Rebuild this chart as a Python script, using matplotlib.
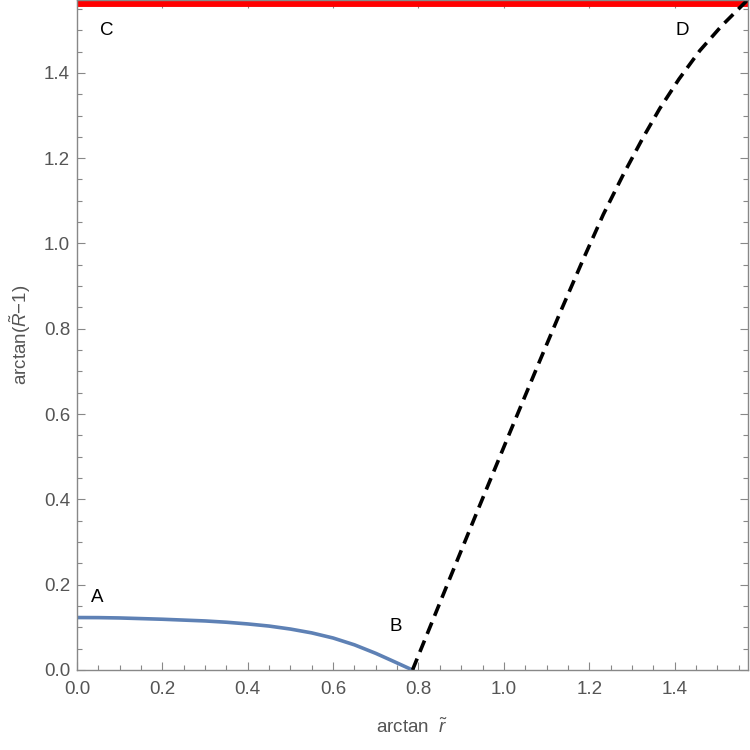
import numpy as np
import matplotlib
matplotlib.use("Agg")
import matplotlib.pyplot as plt
from matplotlib.ticker import MultipleLocator, FormatStrFormatter

plt.rcParams['font.family'] = ['Liberation Sans', 'DejaVu Sans']
plt.rcParams['mathtext.fontset'] = 'custom'
plt.rcParams['mathtext.rm'] = 'Liberation Sans'
plt.rcParams['mathtext.it'] = 'Liberation Sans:italic'

# branch A-B (solid blue)
x_ab = [0.0, 0.05, 0.1, 0.15, 0.2, 0.25, 0.3, 0.35, 0.4, 0.45, 0.5, 0.55, 0.6,
        0.65, 0.7, 0.74, 0.786]
y_ab = [0.123, 0.1228, 0.122, 0.1205, 0.119, 0.117, 0.115, 0.112, 0.108, 0.103,
        0.096, 0.087, 0.075, 0.059, 0.039, 0.021, 0.0]

# branch B-D (dashed black)
x_bd = [0.786, 0.867, 0.939, 1.010, 1.080, 1.131, 1.186, 1.233, 1.279, 1.326,
        1.365, 1.410, 1.459, 1.510, 1.5708]
y_bd = [0.0, 0.199, 0.375, 0.547, 0.715, 0.836, 0.963, 1.068, 1.160, 1.248,
        1.316, 1.385, 1.452, 1.510, 1.5708]

# C-D boundary (red, at pi/2)
x_cd = [0.0, np.pi / 2]
y_cd = [np.pi / 2, np.pi / 2]

labels = {"A": (0.047, 0.171), "B": (0.747, 0.101), "C": (0.07, 1.499), "D": (1.419, 1.499)}

fig = plt.figure(figsize=(7.5, 7.5), dpi=100)
ax = fig.add_axes([77 / 750, 80 / 750, 670.5 / 750, 670 / 750])

ax.plot(x_cd, y_cd, color='#ff0000', lw=10, solid_capstyle='butt')
ax.plot(x_ab, y_ab, color='#5e81b5', lw=2.6)
ax.plot(x_bd, y_bd, color='black', lw=2.6, dashes=(3.4, 2.0))

for k, (lx, ly) in labels.items():
    ax.text(lx, ly, k, fontsize=13.5, color='black', ha='center', va='center')

ax.set_xlim(0, np.pi / 2)
ax.set_ylim(0, np.pi / 2)
ax.xaxis.set_major_locator(MultipleLocator(0.2))
ax.xaxis.set_minor_locator(MultipleLocator(0.05))
ax.yaxis.set_major_locator(MultipleLocator(0.2))
ax.yaxis.set_minor_locator(MultipleLocator(0.05))
ax.xaxis.set_major_formatter(FormatStrFormatter('%.1f'))
ax.yaxis.set_major_formatter(FormatStrFormatter('%.1f'))

gray = '#888888'
for s in ax.spines.values():
    s.set_color(gray)
    s.set_linewidth(1.0)
ax.tick_params(which='both', direction='in', top=True, right=True, color=gray,
               labelsize=13.5, labelcolor='#555555', width=0.8)
ax.tick_params(which='major', length=6)
ax.tick_params(which='minor', length=3.5)
ax.tick_params(axis='x', pad=8)
ax.tick_params(axis='y', pad=5)

ax.set_xlabel(r'arctan  $\tilde{r}$', fontsize=13.5, color='#555555', labelpad=14)
ax.set_ylabel(r'arctan($\tilde{R}$$-$1)', fontsize=13.5, color='#555555', labelpad=8)

fig.savefig('out.png', dpi=100)
